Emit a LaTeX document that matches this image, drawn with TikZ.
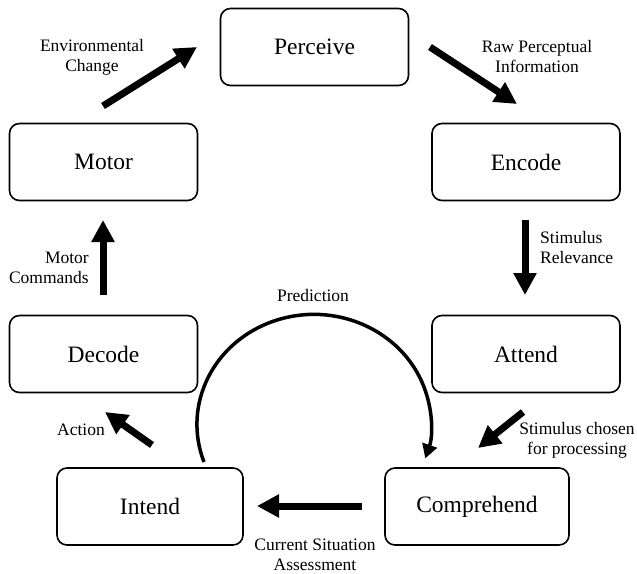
\documentclass[tikz,border=0pt]{standalone}
\usepackage{fontspec}
\setmainfont{Liberation Serif}
\usetikzlibrary{arrows.meta}
\tikzset{
  stagebox/.style={draw, line width=1.6pt, rounded corners=10pt, minimum width=188pt, minimum height=77pt, inner sep=0pt, font=\fontsize{23.5}{28}\selectfont},
  fatarrow/.style={line width=7pt, -{Triangle[length=22pt,width=22pt]}},
  lbl/.style={font=\fontsize{17.5}{20}\selectfont, inner sep=0pt, align=center},
}
\begin{document}
\begin{tikzpicture}[x=1pt,y=-1pt]
\useasboundingbox (0,0) rectangle (637,573);
% boxes
\node[stagebox] (perceive) at (314.5,47) {Perceive};
\node[stagebox] (encode) at (526,162) {Encode};
\node[stagebox] (attend) at (526,354) {Attend};
\node[stagebox, minimum width=184pt] (comprehend) at (477,506.5) {Comprehend};
\node[stagebox, minimum width=186pt] (intend) at (150,506.5) {Intend};
\node[stagebox] (decode) at (103.5,354) {Decode};
\node[stagebox] (motor) at (103.5,162) {Motor};
% arrow end points
\coordinate (ec1) at (103,106); \coordinate (ec2) at (197,47);
\coordinate (rp1) at (430,47);  \coordinate (rp2) at (517,104);
\coordinate (sr1) at (525,220); \coordinate (sr2) at (525,295);
\coordinate (sc1) at (523,412); \coordinate (sc2) at (478,448);
\coordinate (cs1) at (362,506); \coordinate (cs2) at (257,506);
\coordinate (ac1) at (152,445); \coordinate (ac2) at (105,412);
\coordinate (mc1) at (103,295); \coordinate (mc2) at (103,220);
\coordinate (pr1) at (204,462);
% arrows
\draw[fatarrow] (ec1) -- (ec2);
\draw[fatarrow] (rp1) -- (rp2);
\draw[fatarrow] (sr1) -- (sr2);
\draw[fatarrow] (sc1) -- (sc2);
\draw[fatarrow] (cs1) -- (cs2);
\draw[fatarrow] (ac1) -- (ac2);
\draw[fatarrow] (mc1) -- (mc2);
\draw[line width=3.5pt, -{Triangle[length=14pt,width=15pt]}] (pr1) arc[start angle=200, end angle=-18, x radius=117pt, y radius=110pt];
% labels
\node[lbl] (envl) at (92,57) {Environmental\\Change};
\node[lbl] (rawl) at (537,57) {Raw Perceptual\\Information};
\node[lbl, anchor=west, align=left] (srl) at (540,248) {Stimulus\\Relevance};
\node[lbl, anchor=east, align=right] (mcl) at (89,268) {Motor\\Commands};
\node[lbl] (predl) at (313,296) {Prediction};
\node[lbl] (scl) at (577,440) {Stimulus chosen\\for processing};
\node[lbl] (actl) at (81,430) {Action};
\node[lbl] (csl) at (315,555) {Current Situation\\Assessment};
\end{tikzpicture}
\end{document}
